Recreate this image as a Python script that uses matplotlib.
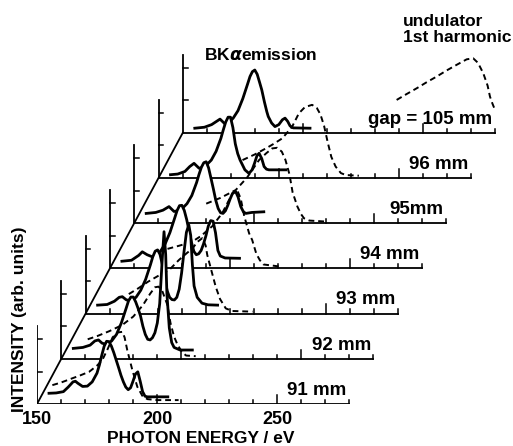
import matplotlib
matplotlib.use("Agg")
import matplotlib.pyplot as plt
import numpy as np

plt.rcParams['font.family'] = ['Liberation Sans', 'DejaVu Sans']
plt.rcParams['font.weight'] = 'bold'

gap_labels = ["91 mm", "92 mm", "93 mm", "94 mm", "95mm", "96 mm", "gap = 105 mm"]

# BK alpha emission spectra (solid), (photon energy eV, intensity)
emis_91 = [(155, .33), (158, .34), (161, .38), (163, .52), (165, .68), (166, .70), (167, .64),
           (169, .54), (171, .55), (173, .68), (175, .95), (176, 1.2), (177, 1.5), (178, 1.78),
           (179, 1.93), (180, 1.92), (181, 1.78), (182, 1.58), (183, 1.35), (184, 1.12),
           (185, .88), (186, .68), (187, .52), (188, .44), (189, .5), (190, .7), (191, .92),
           (192, .99), (193, .7), (194, .38), (195, .24), (196, .22), (200, .22), (204.5, .22)]
emis_92 = [(155, .32), (159, .35), (162, .42), (164, .55), (165.5, .58), (167, .48), (169, .44),
           (171, .55), (173, .75), (175, 1.1), (177, 1.55), (178, 1.78), (179, 1.9), (180, 1.9),
           (181, 1.75), (182, 1.55), (183, 1.32), (184, 1.0), (185, .75), (186, .6), (187, .58),
           (188, .65), (189, .8), (190, 1.1), (191, 1.7), (192, 3.0), (192.8, 3.91), (193.5, 3.2),
           (194, 2.0), (195, .95), (196, .5), (197, .35), (199.5, .27), (204.6, .27)]
emis_93 = [(155, .26), (159, .28), (162, .38), (164, .5), (165.3, .52), (167, .42), (169, .4),
           (171, .5), (173, .72), (175, 1.05), (177, 1.5), (178, 1.75), (179, 1.92), (180, 1.96),
           (181, 1.82), (182, 1.5), (183, 1.05), (184, .7), (185, .5), (186, .43), (187, .42),
           (188, .5), (189, .75), (190, 1.25), (191, 1.9), (192, 2.5), (193, 2.73), (193.8, 2.4),
           (194.5, 1.5), (195.2, .85), (196.5, .5), (198.5, .32), (201, .27), (205, .26)]
emis_94 = [(155, .22), (159, .25), (162, .4), (163.5, .51), (165.5, .42), (167.5, .36), (169, .4),
           (171, .52), (173, .75), (175, 1.1), (177, 1.55), (178, 1.78), (179, 1.93), (180, 1.94),
           (181, 1.78), (182, 1.5), (183, 1.15), (184, .8), (185, .52), (186, .42), (187, .45),
           (188, .55), (189, .75), (190, 1.0), (191, 1.3), (192, 1.47), (193, 1.45), (194, 1.1),
           (195, .55), (196, .38), (198, .32), (204, .31)]
emis_95 = [(155, .3), (159, .33), (162, .4), (164.5, .51), (166.6, .36), (168, .38), (170, .45),
           (172, .6), (174, .85), (176, 1.25), (177, 1.5), (178, 1.72), (179, 1.86), (180, 1.89),
           (181, 1.7), (182, 1.38), (183, 1.05), (184, .7), (185, .45), (186, .32), (187, .3),
           (188, .38), (189, .55), (190, .75), (191, .92), (192.3, .97), (193.3, .8), (194.4, .51),
           (195.5, .35), (196.5, .3), (199, .33), (204, .35)]
emis_96 = [(155, .1), (158, .12), (161, .2), (163, .35), (164.8, .45), (166.9, .3), (168.5, .32),
           (170, .4), (172, .55), (174, .82), (176, 1.22), (177, 1.48), (178, 1.72), (179, 1.87),
           (180, 1.87), (181, 1.55), (182, 1.05), (183, .75), (184, .55), (185, .4), (186, .25),
           (187.7, .14), (189, .25), (190, .45), (191, .68), (191.9, .76), (193, .6), (194, .35),
           (195, .27), (196, .25), (203, .25)]
emis_105 = [(155, .14), (159, .17), (162, .25), (165.5, .42), (167.6, .27), (169, .3), (171, .45),
            (173, .68), (175, 1.05), (177, 1.5), (178, 1.73), (179, 1.88), (180, 1.93), (181, 1.8),
            (182, 1.55), (182.9, 1.32), (184, .95), (185, .65), (185.6, .5), (187, .3), (188.4, .19),
            (190, .25), (191.5, .4), (192.6, .45), (193.7, .35), (194.7, .21), (196, .15), (203, .14)]

# undulator 1st harmonic (dashed)
und_91 = [(156.4, .58), (160, .66), (164.7, .79), (168, .88), (171.7, .99), (175, 1.18), (177.2, 1.35),
          (179.5, 1.7), (181.5, 2.05), (183.5, 2.2), (185.5, 2.22), (186.5, 2.05), (187.6, 1.66),
          (189.7, 1.05), (191.8, .53), (193.9, .25), (196, .15), (200, .12), (209, .12)]
und_92 = [(161, .6), (165, .7), (170, .85), (175.4, 1.04), (180, 1.3), (184, 1.65), (187, 2.0),
          (189, 2.2), (190.5, 2.22), (192, 2.1), (194.2, 1.66), (195.5, 1.1), (197, .68),
          (198.5, .42), (200.4, .2), (202, .1), (206, .08)]
und_93 = [(168, .6), (172, .78), (176, .98), (180, 1.15), (184.8, 1.34), (188.9, 1.65), (192, 1.85),
          (194.5, 2.0), (196.5, 2.2), (198.6, 2.32), (200, 2.1), (200.7, 1.8), (202.5, 1.3),
          (204.2, .83), (206, .45), (208.4, .16), (211, .08), (219.5, .06)]
und_94 = [(174, .6), (179, .7), (184.3, .82), (188, 1.0), (192.7, 1.3), (196.8, 1.7), (199.6, 2.1),
          (201.5, 2.35), (203, 2.41), (204.5, 2.15), (206, 1.6), (208, 1.08), (209.3, .87),
          (211, .45), (212.5, .25), (214, .12), (220.5, .06)]
und_95 = [(180, .6), (186, .78), (192.3, 1.02), (197, 1.4), (202, 1.94), (205, 2.15), (207.5, 2.3),
          (209.6, 2.32), (211.5, 2.2), (213, 1.95), (214.7, 1.5), (216, .95), (218, .51),
          (219.5, .28), (220.75, .15), (223, .08), (229.8, .05)]
und_96 = [(185, .55), (190, .72), (195, .92), (198, 1.05), (201.6, 1.22), (205.7, 1.58), (208.5, 1.99),
          (211, 2.18), (214, 2.25), (216, 2.15), (217.5, 1.95), (219, 1.6), (220.5, 1.1), (222, .65),
          (223.8, .35), (226, .15), (228, .09), (233.5, .07)]
und_105 = [(239.1, 1.01), (243, 1.18), (247.5, 1.37), (251.5, 1.55), (255.8, 1.73), (260, 1.92),
           (264.1, 2.09), (268.3, 2.26), (271, 2.29), (273, 2.15), (275.2, 1.83), (277, 1.45),
           (278, 1.11), (279, .9), (280.1, .7)]

emission = [emis_91, emis_92, emis_93, emis_94, emis_95, emis_96, emis_105]
undulator = [und_91, und_92, und_93, und_94, und_95, und_96, und_105]

# each panel sits up and to the right of the one in front of it
dx, dy = 10.125, 1.391

fig = plt.figure(figsize=(5.13, 4.46), dpi=100)
ax = fig.add_axes([37 / 513, 42 / 446, 476 / 513, 404 / 446])
ax.set_xlim(150, 150 + 476 / 2.4)
ax.set_ylim(0, 404 / 32.5)
for s in ax.spines.values():
    s.set_visible(False)
ax.set_yticks([])
ax.set_xticks([150, 200, 250])
ax.tick_params(axis='x', length=0, pad=5, labelsize=13)
ax.set_xlabel("PHOTON ENERGY / eV", fontsize=12.5, fontweight='bold')
ax.xaxis.set_label_coords(0.345, -0.067)
ax.set_ylabel("INTENSITY (arb. units)", fontsize=12.5, fontweight='bold')
ax.yaxis.set_label_coords(-0.022, 0.21)

for i in range(6, -1, -1):
    ox, oy = i * dx, i * dy
    z = 10 * (7 - i)
    e, v = np.array(emission[i]).T
    ax.fill_between(e + ox, oy, v + oy, color='white', lw=0, zorder=z + 1)
    # frame of this panel
    ax.plot([150 + ox, 150 + ox, 280 + ox], [2.4 + oy, oy, oy], color='k', lw=1.3,
            zorder=z + 2, solid_joinstyle='miter')
    for t in range(160, 290, 10):
        h = 0.28 if t in (200, 250) else 0.13
        ax.plot([t + ox, t + ox], [oy, oy + h], color='k', lw=1.1, zorder=z + 2)
    for t in (1, 2):
        ax.plot([150 + ox, 152 + ox], [t + oy, t + oy], color='k', lw=1.1, zorder=z + 2)
    ax.plot(e + ox, v + oy, color='k', lw=2.0, zorder=z + 3)
    ue, uv = np.array(undulator[i]).T
    ax.plot(ue + ox, uv + oy, color='k', lw=1.4, dashes=(3, 2), zorder=z + 3)
    ax.text(279 + ox, 0.28 + oy, gap_labels[i], ha='right', va='baseline',
            fontsize=13.5, zorder=z + 3)

ax.plot([150, 150 + 6 * dx], [0, 6 * dy], color='k', lw=1.3, zorder=75)

ax.text(243.3, 10.74, r"BK$\alpha$emission", ha='center', va='center', fontsize=12.5)
ax.text(302.5, 12.0, "undulator\n1st harmonic", ha='left', va='top', fontsize=12.5,
        linespacing=1.1)

fig.savefig("out.png", dpi=100)
